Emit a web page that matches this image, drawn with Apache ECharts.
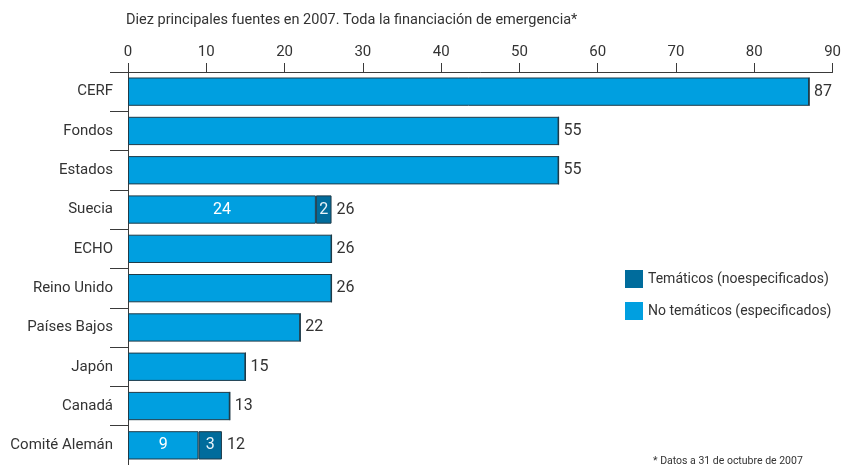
<!DOCTYPE html>
<html>
<head>
<meta charset="utf-8">
<script src="https://cdn.jsdelivr.net/npm/echarts@6/dist/echarts.min.js"></script>
<style>
  html, body { margin: 0; padding: 0; background: #fff; }
  #chart { width: 844px; height: 465px; }
</style>
</head>
<body>
<div id="chart"></div>
<script>
const categories = ['CERF', 'Fondos', 'Estados', 'Suecia', 'ECHO', 'Reino Unido', 'Países Bajos', 'Japón', 'Canadá', 'Comité Alemán'];
const noTematicos = [87, 55, 55, 24, 26, 26, 22, 15, 13, 9];
const tematicos = [0, 0, 0, 2, 0, 0, 0, 0, 0, 3];
const xTicks = [0, 10, 20, 30, 40, 50, 60, 70, 80, 90];

const totals = noTematicos.map((v, i) => v + tematicos[i]);
const font = "'Liberation Sans Narrow', Roboto, sans-serif";
const axisColor = '#3a3a3a';
const barBorder = '#1e3a48';

const chart = echarts.init(document.getElementById('chart'));

// only label the split segments, the plain bars get just the total
function innerLabel(arr) {
    return p => (tematicos[p.dataIndex] > 0 ? String(arr[p.dataIndex]) : '');
}

chart.setOption({
    backgroundColor: '#fff',
    animation: false,
    textStyle: { fontFamily: font },
    title: {
        text: 'Diez principales fuentes en 2007. Toda la financiación de emergencia*',
        left: 121,
        top: 8,
        textStyle: { fontSize: 14.5, fontWeight: 'normal', color: '#333', fontFamily: font }
    },
    legend: {
        orient: 'vertical',
        left: 620,
        top: 265,
        icon: 'rect',
        itemWidth: 18,
        itemHeight: 18,
        itemGap: 14,
        data: ['Temáticos (noespecificados)', 'No temáticos (especificados)'],
        itemStyle: { borderWidth: 0 },
        textStyle: { fontSize: 14, color: '#333', fontFamily: font }
    },
    grid: { left: 128, right: 9, top: 72, height: 395 },
    xAxis: {
        type: 'value',
        position: 'top',
        min: xTicks[0],
        max: xTicks[xTicks.length - 1],
        interval: 10,
        axisLine: { show: true, lineStyle: { color: axisColor, width: 1 } },
        axisTick: { show: true, length: 9, lineStyle: { color: axisColor } },
        axisLabel: { fontSize: 15, color: '#333', margin: 12, fontFamily: font },
        splitLine: { show: false }
    },
    yAxis: {
        type: 'category',
        inverse: true,
        data: categories,
        axisLine: { show: true, lineStyle: { color: axisColor, width: 1 } },
        axisTick: { show: true, length: 18, alignWithLabel: false, lineStyle: { color: axisColor } },
        axisLabel: { fontSize: 15, color: '#333', margin: 15, fontFamily: font }
    },
    series: [
        {
            name: 'No temáticos (especificados)',
            type: 'bar',
            stack: 'total',
            barCategoryGap: '28%',
            data: noTematicos,
            itemStyle: { color: '#009fe0', borderColor: barBorder, borderWidth: 1 },
            label: {
                show: true,
                position: 'inside',
                color: '#fff',
                fontSize: 16,
                fontFamily: font,
                formatter: innerLabel(noTematicos)
            }
        },
        {
            name: 'Temáticos (noespecificados)',
            type: 'bar',
            stack: 'total',
            data: tematicos,
            itemStyle: { color: '#006c9c', borderColor: barBorder, borderWidth: 1 },
            label: {
                show: true,
                position: 'inside',
                color: '#e8f4fa',
                fontSize: 16,
                fontFamily: font,
                formatter: innerLabel(tematicos)
            }
        },
        {
            name: 'total',
            type: 'bar',
            stack: 'total',
            data: totals.map(() => 0),
            itemStyle: { color: 'transparent', borderWidth: 0 },
            label: {
                show: true,
                position: 'right',
                distance: 5,
                color: '#333',
                fontSize: 16,
                fontFamily: font,
                formatter: p => String(totals[p.dataIndex])
            }
        }
    ],
    graphic: [
        {
            type: 'text',
            left: 653,
            top: 456,
            style: { text: '* Datos a 31 de octubre de 2007', fontSize: 10.5, fill: '#333', fontFamily: font }
        }
    ]
});

window.addEventListener('resize', () => chart.resize());
</script>
</body>
</html>
